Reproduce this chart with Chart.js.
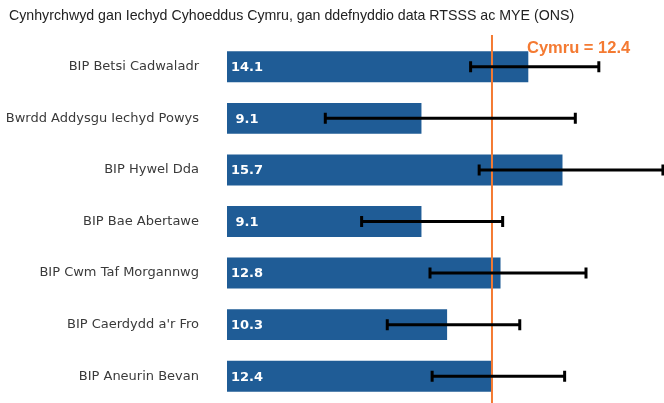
<!DOCTYPE html>
<html>
<head>
<meta charset="utf-8">
<script src="https://cdn.jsdelivr.net/npm/chart.js@4/dist/chart.umd.min.js"></script>
<style>
  html, body { margin: 0; padding: 0; background: #fff; }
  #wrap { width: 664px; height: 403px; position: relative; }
</style>
</head>
<body>
<div id="wrap"><canvas id="chart"></canvas></div>
<script>
// Data
const boards = [
    'BIP Betsi Cadwaladr',
    'Bwrdd Addysgu Iechyd Powys',
    'BIP Hywel Dda',
    'BIP Bae Abertawe',
    'BIP Cwm Taf Morgannwg',
    "BIP Caerdydd a'r Fro",
    'BIP Aneurin Bevan'
];
const rates = [14.1, 9.1, 15.7, 9.1, 12.8, 10.3, 12.4];
const lowerCI = [11.4, 4.6, 11.8, 6.3, 9.5, 7.5, 9.6];
const upperCI = [17.4, 16.3, 20.4, 12.9, 16.8, 13.7, 15.8];
const walesValue = 12.4;
const walesLabel = 'Cymru = 12.4';
const sourceText = 'Cynhyrchwyd gan Iechyd Cyhoeddus Cymru, gan ddefnyddio data RTSSS ac MYE (ONS)';

const barColour = '#1F5C96';
const orange = '#F47A32';

// Testun ffynhonnell, gwerthoedd, bariau gwall a llinell Cymru
const extras = {
    id: 'extras',
    afterDatasetsDraw(chart) {
        const ctx = chart.ctx;
        const x = chart.scales.x;
        const y = chart.scales.y;
        const area = chart.chartArea;

        ctx.save();

        // gwerthoedd y tu mewn i'r bariau
        ctx.fillStyle = '#ffffff';
        ctx.font = 'bold 13px "DejaVu Sans", Verdana, sans-serif';
        ctx.textAlign = 'center';
        ctx.textBaseline = 'middle';
        rates.forEach((v, i) => {
            ctx.fillText(v.toFixed(1), area.left + 20, y.getPixelForValue(i) + 1);
        });

        // llinell Cymru
        const wx = x.getPixelForValue(walesValue);
        ctx.strokeStyle = orange;
        ctx.lineWidth = 2;
        ctx.beginPath();
        ctx.moveTo(wx, 35);
        ctx.lineTo(wx, chart.height);
        ctx.stroke();

        // bariau gwall
        ctx.strokeStyle = '#000000';
        ctx.lineWidth = 3;
        lowerCI.forEach((lo, i) => {
            const cy = y.getPixelForValue(i);
            const x1 = x.getPixelForValue(lo);
            const x2 = x.getPixelForValue(upperCI[i]);
            ctx.beginPath();
            ctx.moveTo(x1, cy);
            ctx.lineTo(x2, cy);
            ctx.moveTo(x1, cy - 5.5);
            ctx.lineTo(x1, cy + 5.5);
            ctx.moveTo(x2, cy - 5.5);
            ctx.lineTo(x2, cy + 5.5);
            ctx.stroke();
        });

        // label Cymru
        ctx.fillStyle = orange;
        ctx.font = 'bold 16.5px "Liberation Sans", Arial, sans-serif';
        ctx.textAlign = 'left';
        ctx.textBaseline = 'alphabetic';
        ctx.fillText(walesLabel, 527, 53);

        // testun ffynhonnell
        ctx.fillStyle = '#222222';
        ctx.font = '14.2px "Liberation Sans", Arial, sans-serif';
        ctx.fillText(sourceText, 9, 20);

        ctx.restore();
    }
};

const chart = new Chart(document.getElementById('chart').getContext('2d'), {
    type: 'bar',
    data: {
        labels: boards,
        datasets: [{
            data: rates,
            backgroundColor: barColour,
            borderWidth: 0,
            barPercentage: 0.6,
            categoryPercentage: 1.0
        }]
    },
    options: {
        indexAxis: 'y',
        responsive: true,
        maintainAspectRatio: false,
        animation: false,
        layout: {
            padding: { top: 41, bottom: 1, left: 0, right: 0 }
        },
        plugins: {
            legend: { display: false },
            tooltip: { enabled: false }
        },
        scales: {
            x: {
                display: false,
                min: 0,
                max: 20.45
            },
            y: {
                grid: { display: false, drawTicks: false },
                border: { display: false },
                ticks: {
                    padding: 28,
                    color: '#3a3a3a',
                    font: { family: '"DejaVu Sans", Verdana, sans-serif', size: 13 }
                },
                afterFit(scale) {
                    scale.width = 227;
                    scale.paddingTop = 0;
                    scale.paddingBottom = 0;
                }
            }
        }
    },
    plugins: [extras]
});
</script>
</body>
</html>
